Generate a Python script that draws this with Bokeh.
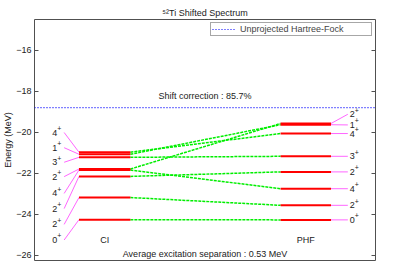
from bokeh.plotting import figure
from bokeh.models import (Range1d, LinearAxis, FixedTicker, Label, Legend,
                          LegendItem)
from bokeh.embed import file_html
from bokeh.resources import INLINE
from bokeh.core.properties import value

# ---------------- data ----------------
ci_spins = ["0", "2", "2", "4", "2", "3", "1", "4"]
ci_energy = [-24.26, -23.18, -22.15, -21.84, -21.79, -21.22, -21.07, -20.97]
ci_label_energy = [-25.25, -24.49, -23.72, -22.98, -22.16, -21.46, -20.75, -20.01]

phf_spins = ["0", "2", "4", "2", "3", "4", "1", "2"]
phf_energy = [-24.27, -23.56, -22.75, -21.93, -21.17, -20.06, -19.63, -19.57]
phf_label_energy = [-24.27, -23.56, -22.75, -21.93, -21.17, -20.06, -19.64, -19.12]

ci_to_phf = [0, 1, 3, 2, 7, 4, 6, 5]   # which PHF state each CI state maps to

hf_energy = -18.8
shift_correction = 85.7
avg_separation = 0.53
y_ticks = [-26, -24, -22, -20, -18, -16]

# ---------------- layout (not data) ----------------
X_MIN, X_MAX = 0.0, 6.9
Y_MIN, Y_MAX = -26.25, -14.5
X_LABEL_L, X_LINK_L = 0.36, 0.6
CI_X0, CI_X1 = 0.9, 1.94
PHF_X0, PHF_X1 = 4.98, 6.0
X_LINK_R, X_LABEL_R = 6.34, 6.38
SUP_DX, SUP_DY = 0.1, 0.2
FONT = "Liberation Sans"
FS = "9px"
GRAY = "#505050"
TXT = "#222222"

p = figure(width=384, height=264, output_backend="svg", toolbar_location=None,
           x_range=Range1d(X_MIN, X_MAX), y_range=Range1d(Y_MIN, Y_MAX),
           x_axis_location=None, y_axis_location="left",
           min_border_left=30, min_border_right=9, min_border_top=19,
           min_border_bottom=4,
           title="\u2075\u00b2Ti Shifted Spectrum")
p.title.align = "center"
p.title.text_font = FONT
p.title.text_font_size = FS
p.title.text_font_style = "normal"
p.title.text_color = TXT
p.title.standoff = 4
p.grid.visible = False
p.outline_line_color = GRAY
p.outline_line_width = 1
p.background_fill_color = "white"
p.border_fill_color = "white"

yax = p.yaxis[0]
yax.ticker = FixedTicker(ticks=y_ticks)
yax.axis_line_color = None
yax.major_tick_in = 4
yax.major_tick_out = 0
yax.major_tick_line_color = GRAY
yax.minor_tick_line_color = None
yax.major_label_standoff = 3
yax.major_label_text_font = FONT
yax.major_label_text_font_size = FS
yax.major_label_text_color = TXT
yax.axis_label = "Energy (MeV)"
yax.axis_label_standoff = 0
yax.axis_label_text_font = FONT
yax.axis_label_text_font_size = FS
yax.axis_label_text_font_style = "normal"
yax.axis_label_text_color = TXT

rax = LinearAxis(ticker=FixedTicker(ticks=y_ticks),
                 major_label_overrides={t: "" for t in y_ticks},
                 axis_line_color=None, major_tick_in=4, major_tick_out=0,
                 major_tick_line_color=GRAY, minor_tick_line_color=None,
                 major_label_standoff=0, major_label_text_font_size="1px")
p.add_layout(rax, "right")

# Hartree-Fock reference line
hf_line = p.line(x=[X_MIN, X_MAX], y=[hf_energy, hf_energy], line_color="#0000ff",
                 line_width=1.2, line_dash="1 2")

# connectors CI -> PHF
p.segment(x0=CI_X1, y0=ci_energy, x1=PHF_X0,
          y1=[phf_energy[j] for j in ci_to_phf],
          line_color="#00ee00", line_width=1.5, line_dash="3 1")

# label links
p.segment(x0=X_LINK_L, y0=ci_label_energy, x1=CI_X0, y1=ci_energy,
          line_color="#ff66ff", line_width=1)
p.segment(x0=PHF_X1, y0=phf_energy, x1=X_LINK_R, y1=phf_label_energy,
          line_color="#ff66ff", line_width=1)

# levels
p.segment(x0=CI_X0, y0=ci_energy, x1=CI_X1, y1=ci_energy,
          line_color="#ff0000", line_width=2)
p.segment(x0=PHF_X0, y0=phf_energy, x1=PHF_X1, y1=phf_energy,
          line_color="#ff0000", line_width=2)

# spin labels (J with parity '+' as superscript)
for xs, ys, spins in ((X_LABEL_L, ci_label_energy, ci_spins),
                      (X_LABEL_R, phf_label_energy, phf_spins)):
    p.text(x=xs, y=ys, text=spins, text_font=value(FONT), text_font_size=FS,
           text_align="left", text_baseline="middle", text_color=TXT)
    p.text(x=xs + SUP_DX, y=[v + SUP_DY for v in ys], text=["+"] * len(spins),
           text_font=value(FONT), text_font_size="7px", text_align="left",
           text_baseline="middle", text_color=TXT)

def lab(x, y, t):
    p.add_layout(Label(x=x, y=y, text=t, text_font=FONT, text_font_size=FS,
                       text_align="center", text_baseline="middle",
                       text_color=TXT))

xc = (X_MIN + X_MAX) / 2
lab(xc, -18.21, f"Shift correction : {shift_correction}%")
lab(xc, -25.92, f"Average excitation separation : {avg_separation} MeV")
lab((CI_X0 + CI_X1) / 2, -25.24, "CI")
lab((PHF_X0 + PHF_X1) / 2, -25.24, "PHF")

legend = Legend(items=[LegendItem(label="Unprojected Hartree-Fock", renderers=[hf_line])],
                location="top_right", margin=3, padding=1, spacing=0,
                label_text_font=FONT, label_text_font_size=FS,
                glyph_width=24, glyph_height=8, label_height=8, label_width=130,
                label_standoff=4, border_line_color=GRAY, border_line_width=1,
                background_fill_color="white", background_fill_alpha=1.0)
p.add_layout(legend)

open("out.html", "w").write(file_html(p, INLINE))
